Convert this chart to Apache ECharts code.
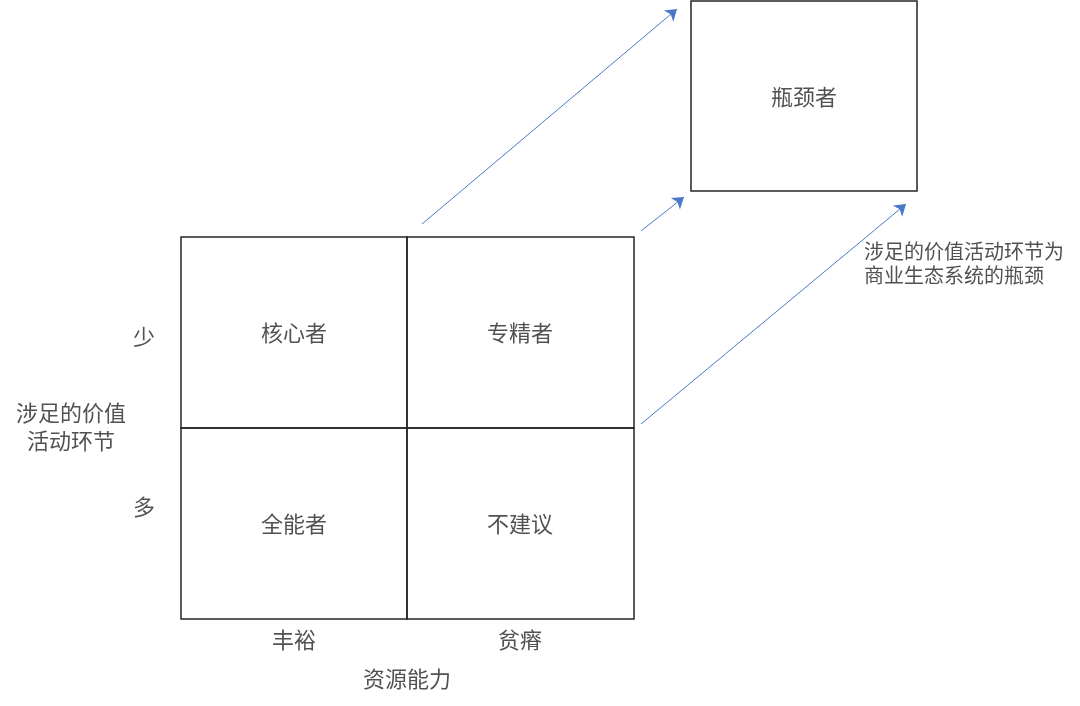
<!DOCTYPE html>
<html>
<head>
<meta charset="utf-8">
<script src="https://cdn.jsdelivr.net/npm/echarts@6/dist/echarts.min.js"></script>
<style>
  html, body { margin: 0; padding: 0; background: #fff; }
  #chart { width: 1080px; height: 706px; }
</style>
</head>
<body>
<div id="chart"></div>
<script>
// Quadrant diagram drawn on a hidden value grid (units = page pixels).
const matrixX = [181, 407, 634];
const matrixY = [237, 428, 619];
const bottleneckBox = [691, 1, 917, 191];

const cellLabels = ['核心者', '专精者', '全能者', '不建议'];
const cellCenters = [[294, 333], [520, 333], [294, 524], [520, 524]];

const axisLabels = ['少', '多', '丰裕', '贫瘠', '资源能力', '涉足的价值\n活动环节', '瓶颈者'];
const axisLabelPos = [[144, 337], [144, 507], [294, 640], [520, 640], [407, 679], [71, 427], [804, 97]];

const noteText = '涉足的价值活动环节为\n商业生态系统的瓶颈';
const notePos = [864, 263];

const arrows = [
  [[422, 224], [677, 9]],
  [[641, 231], [684, 197]],
  [[641, 424], [906, 204]],
];

const chart = echarts.init(document.getElementById('chart'));
const FONT = '"Noto Sans CJK SC", "Noto Sans", sans-serif';
const INK = '#262626';

const rects = [];
for (let r = 0; r < 2; r++) {
  for (let c = 0; c < 2; c++) {
    rects.push([matrixX[c], matrixY[r], matrixX[c + 1], matrixY[r + 1]]);
  }
}
rects.push(bottleneckBox);

chart.setOption({
  animation: false,
  grid: { left: 0, right: 0, top: 0, bottom: 0 },
  xAxis: { type: 'value', min: 0, max: 1080, show: false },
  yAxis: { type: 'value', min: 0, max: 706, inverse: true, show: false },
  series: [
    {
      type: 'custom',
      data: rects,
      renderItem(params, api) {
        const p1 = api.coord([api.value(0), api.value(1)]);
        const p2 = api.coord([api.value(2), api.value(3)]);
        return {
          type: 'rect',
          shape: { x: p1[0], y: p1[1], width: p2[0] - p1[0], height: p2[1] - p1[1] },
          style: { fill: 'none', stroke: INK, lineWidth: 1.5 },
        };
      },
      silent: true,
    },
    {
      type: 'lines',
      coordinateSystem: 'cartesian2d',
      symbol: ['none', 'arrow'],
      symbolSize: [0, 11],
      lineStyle: { color: '#4a78c8', width: 1, opacity: 1 },
      data: arrows.map(a => ({ coords: a })),
      silent: true,
    },
    {
      type: 'scatter',
      symbolSize: 0,
      silent: true,
      data: cellLabels.map((t, i) => ({ name: t, value: cellCenters[i] }))
        .concat(axisLabels.map((t, i) => ({ name: t, value: axisLabelPos[i] }))),
      label: {
        show: true,
        position: 'inside',
        formatter: p => p.name,
        fontFamily: FONT,
        fontSize: 22,
        lineHeight: 28,
        color: INK,
        align: 'center',
        verticalAlign: 'middle',
      },
    },
    {
      type: 'scatter',
      symbolSize: 0,
      silent: true,
      data: [{ name: noteText, value: notePos }],
      label: {
        show: true,
        position: 'inside',
        formatter: p => p.name,
        fontFamily: FONT,
        fontSize: 20,
        lineHeight: 24,
        color: INK,
        align: 'left',
        verticalAlign: 'middle',
      },
    },
  ],
});
</script>
</body>
</html>
